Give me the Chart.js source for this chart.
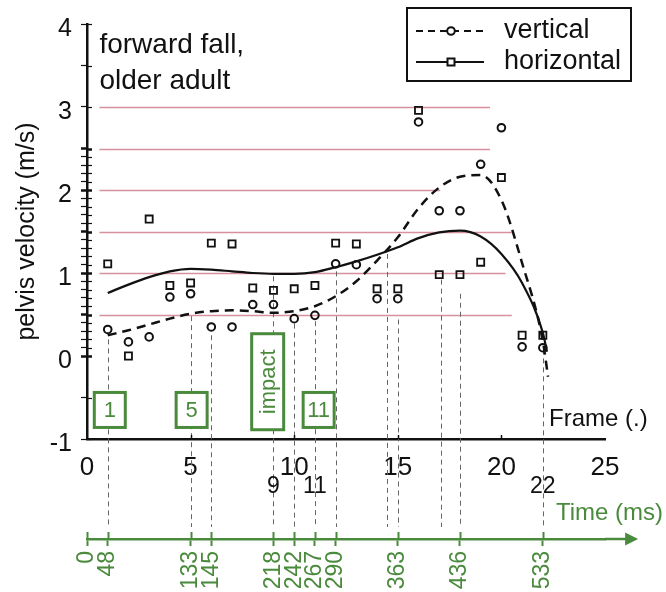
<!DOCTYPE html>
<html>
<head>
<meta charset="utf-8">
<script src="https://cdn.jsdelivr.net/npm/chart.js@4"></script>
<style>
  html, body { margin: 0; padding: 0; background: #fff; }
</style>
</head>
<body>
<canvas id="fall-chart" width="666" height="592"></canvas>
<script>
// measured samples, one per frame
const frames = [1, 2, 3, 4, 5, 6, 7, 8, 9, 10, 11, 12, 13, 14, 15, 16, 17, 18, 19, 20, 21, 22];
const verticalVel = [0.32, 0.17, 0.23, 0.71, 0.75, 0.35, 0.35, 0.62, 0.62, 0.45, 0.49, 1.11, 1.10, 0.69, 0.69, 2.82, 1.75, 1.75, 2.31, 2.75, 0.11, 0.10];
const horizontalVel = [1.11, 0.00, 1.65, 0.85, 0.88, 1.36, 1.35, 0.82, 0.79, 0.81, 0.85, 1.36, 1.35, 0.81, 0.81, 2.96, 0.98, 0.98, 1.13, 2.15, 0.25, 0.25];

// fitted curves
const verticalFitFrames = [1, 2, 3, 4, 5, 6, 7, 8, 9, 10, 11, 12, 13, 14, 15, 16, 17, 18, 19, 20, 21, 22, 22.25];
const verticalFit = [0.25, 0.31, 0.38, 0.45, 0.51, 0.54, 0.55, 0.54, 0.52, 0.54, 0.60, 0.72, 0.90, 1.15, 1.43, 1.78, 2.03, 2.16, 2.18, 1.88, 1.12, 0.18, -0.25];
const horizontalFitFrames = [1, 2, 3, 4, 5, 6, 7, 8, 9, 10, 11, 12, 13, 14, 15, 16, 17, 18, 19, 20, 21, 22, 22.2];
const horizontalFit = [0.76, 0.86, 0.95, 1.02, 1.05, 1.04, 1.02, 1.00, 0.99, 0.99, 1.01, 1.07, 1.14, 1.22, 1.31, 1.42, 1.49, 1.51, 1.44, 1.23, 0.88, 0.28, 0.05];

const seriesNames = ['vertical', 'horizontal'];

// pink reference levels
const refLevels = [3, 2.5, 2, 1.5, 1, 0.5];
const refStart = 0.6;
const refEnds = [19.45, 19.45, 17.05, 20.5, 20.2, 20.5];

// dashed guides from the curves down to the time axis
const guideFrames = [1, 5, 6, 9, 10, 11, 12, 14.5, 15, 17.1, 18, 22];
const guideTops = [0.2, 0.48, 0.25, 0.96, 0.39, 0.42, 1.02, 1.23, 0.44, 0.92, 0.75, 0.08];

// green frame markers
const boxFrames = [1.1, 5.05, 8.72, 11.18];
const boxLevels = [-0.65, -0.65, -0.31, -0.65];
const boxLabels = ['1', '5', 'impact', '11'];

// second row of frame numbers
const extraFrames = [9, 11, 22];

// time axis
const timeFrames = [0, 1, 5, 6, 9, 10, 11, 12, 15, 18, 22];
const timeLabels = ['0', '48', '133', '145', '218', '242', '267', '290', '363', '436', '533'];

const noteLines = ['forward fall,', 'older adult'];

const FONT = "'Liberation Sans', Arial, sans-serif";
const GREEN = '#4a8a3c';
const PINK = '#d6919f';

function pts(xs, ys) {
  return xs.map((v, i) => ({x: v, y: ys[i]}));
}

function yTickShown(v) {
  const onInt = Math.abs(v - Math.round(v)) < 1e-6;
  const onHalf = Math.abs(v * 2 - Math.round(v * 2)) < 1e-6;
  return onInt || (v >= -1e-6 && v <= 2.5 + 1e-6) || (onHalf && (v > 3 || v < 0));
}

function yTickWidth(v) {
  const onHalf = Math.abs(v * 2 - Math.round(v * 2)) < 1e-6;
  return onHalf && v >= 0 && v <= 2.5 ? 2.5 : 1.2;
}

const fallPlugin = {
  id: 'fallNotes',
  beforeDatasetsDraw(chart) {
    const {ctx} = chart;
    const {x, y, time} = chart.scales;
    ctx.save();
    ctx.strokeStyle = PINK;
    ctx.lineWidth = 1.3;
    refLevels.forEach((lv, i) => {
      const py = Math.round(y.getPixelForValue(lv)) + 0.5;
      ctx.beginPath();
      ctx.moveTo(x.getPixelForValue(refStart), py);
      ctx.lineTo(x.getPixelForValue(refEnds[i]), py);
      ctx.stroke();
    });
    ctx.strokeStyle = '#666';
    ctx.lineWidth = 1;
    ctx.setLineDash([5, 4]);
    guideFrames.forEach((f, i) => {
      const px = Math.round(x.getPixelForValue(f)) + 0.5;
      ctx.beginPath();
      ctx.moveTo(px, y.getPixelForValue(guideTops[i]));
      ctx.lineTo(px, time.top - 12);
      ctx.stroke();
    });
    ctx.setLineDash([]);

    // inner halves of the axis ticks
    ctx.strokeStyle = '#111';
    y.ticks.forEach(t => {
      if (!yTickShown(t.value)) return;
      const py = Math.round(y.getPixelForValue(t.value)) + 0.5;
      ctx.lineWidth = yTickWidth(t.value);
      ctx.beginPath();
      ctx.moveTo(y.right, py);
      ctx.lineTo(y.right + 5, py);
      ctx.stroke();
    });
    ctx.lineWidth = 1.5;
    x.ticks.forEach(t => {
      if (t.value === 0 || t.value === 25) return;
      const px = Math.round(x.getPixelForValue(t.value)) + 0.5;
      ctx.beginPath();
      ctx.moveTo(px, x.top);
      ctx.lineTo(px, x.top - 4);
      ctx.stroke();
    });
    ctx.restore();
  },
  afterDatasetsDraw(chart) {
    const {ctx} = chart;
    const {x, y} = chart.scales;
    ctx.save();
    ctx.lineWidth = 3;
    ctx.strokeStyle = GREEN;
    ctx.font = '22px ' + FONT;
    ctx.textAlign = 'center';
    ctx.textBaseline = 'middle';
    boxLabels.forEach((txt, i) => {
      const cx = x.getPixelForValue(boxFrames[i]);
      const cy = y.getPixelForValue(boxLevels[i]);
      const vertical = txt.length > 2;
      const w = vertical ? 32 : 31;
      const h = vertical ? 96 : 35;
      ctx.fillStyle = '#fff';
      ctx.fillRect(cx - w / 2, cy - h / 2, w, h);
      ctx.strokeRect(cx - w / 2, cy - h / 2, w, h);
      ctx.fillStyle = GREEN;
      if (vertical) {
        ctx.save();
        ctx.translate(cx, cy);
        ctx.rotate(-Math.PI / 2);
        ctx.fillText(txt, 0, 1);
        ctx.restore();
      } else {
        ctx.fillText(txt, cx, cy + 1);
      }
    });
    ctx.restore();
  },
  afterDraw(chart) {
    const {ctx} = chart;
    const {x, y, time} = chart.scales;
    ctx.save();

    // note in the top-left corner
    ctx.fillStyle = '#111';
    ctx.font = '28px ' + FONT;
    ctx.textAlign = 'left';
    ctx.textBaseline = 'middle';
    noteLines.forEach((t, i) => {
      ctx.fillText(t, x.getPixelForValue(0.6), 45 + i * 36);
    });

    // Frame (.) label
    ctx.font = '24px ' + FONT;
    ctx.fillText('Frame (.)', x.getPixelForValue(22.3), y.getPixelForValue(-0.76));

    // second row of frame numbers
    ctx.font = '23px ' + FONT;
    ctx.textAlign = 'center';
    extraFrames.forEach(f => {
      ctx.fillText(String(f), x.getPixelForValue(f), x.top + 48);
    });

    // time axis title, arrow and upper tick halves
    ctx.fillStyle = GREEN;
    ctx.strokeStyle = GREEN;
    ctx.font = '24px ' + FONT;
    ctx.textAlign = 'left';
    ctx.fillText('Time (ms)', x.getPixelForValue(22.63), x.top + 74);
    const ay = time.top;
    const tip = x.getPixelForValue(26.6);
    ctx.lineWidth = 2.5;
    ctx.beginPath();
    ctx.moveTo(time.right, ay);
    ctx.lineTo(tip - 6, ay);
    ctx.stroke();
    ctx.beginPath();
    ctx.moveTo(tip, ay);
    ctx.lineTo(tip - 13, ay - 6.5);
    ctx.lineTo(tip - 13, ay + 6.5);
    ctx.closePath();
    ctx.fill();
    ctx.lineWidth = 2;
    time.ticks.forEach(t => {
      const px = Math.round(time.getPixelForValue(t.value)) + 0.5;
      ctx.beginPath();
      ctx.moveTo(px, ay - 7);
      ctx.lineTo(px, ay);
      ctx.stroke();
    });

    // legend box
    const lx = 407, ly = 8, lw = 224, lh = 73;
    ctx.strokeStyle = '#111';
    ctx.lineWidth = 2;
    ctx.strokeRect(lx, ly, lw, lh);
    ctx.font = '27px ' + FONT;
    ctx.fillStyle = '#111';
    seriesNames.forEach((name, i) => {
      const ry = ly + 23 + i * 31;
      ctx.lineWidth = 2;
      ctx.setLineDash(i === 0 ? [7, 5] : []);
      ctx.beginPath();
      ctx.moveTo(lx + 9, ry);
      ctx.lineTo(lx + 77, ry);
      ctx.stroke();
      ctx.setLineDash([]);
      ctx.fillStyle = '#fff';
      ctx.beginPath();
      if (i === 0) {
        ctx.arc(lx + 44, ry, 3.8, 0, Math.PI * 2);
      } else {
        ctx.rect(lx + 40.5, ry - 3.5, 7, 7);
      }
      ctx.fill();
      ctx.stroke();
      ctx.fillStyle = '#111';
      ctx.fillText(name, lx + 97, ry);
    });
    ctx.restore();
  }
};

new Chart(document.getElementById('fall-chart'), {
  type: 'scatter',
  data: {
    datasets: [
      {
        type: 'line',
        label: seriesNames[0] + ' fit',
        data: pts(verticalFitFrames, verticalFit),
        borderColor: '#111',
        borderWidth: 2.5,
        borderDash: [9, 6],
        pointRadius: 0,
        cubicInterpolationMode: 'monotone',
        fill: false
      },
      {
        type: 'line',
        label: seriesNames[1] + ' fit',
        data: pts(horizontalFitFrames, horizontalFit),
        borderColor: '#111',
        borderWidth: 2.2,
        pointRadius: 0,
        cubicInterpolationMode: 'monotone',
        fill: false
      },
      {
        label: seriesNames[0],
        data: pts(frames, verticalVel),
        pointStyle: 'circle',
        pointRadius: 3.8,
        pointBorderWidth: 2,
        pointBorderColor: '#111',
        pointBackgroundColor: 'rgba(255,255,255,0)'
      },
      {
        label: seriesNames[1],
        data: pts(frames, horizontalVel),
        pointStyle: 'rect',
        pointRadius: 5,
        pointBorderWidth: 1.8,
        pointBorderColor: '#111',
        pointBackgroundColor: 'rgba(255,255,255,0)'
      }
    ]
  },
  options: {
    responsive: false,
    animation: false,
    devicePixelRatio: 1,
    layout: { padding: { left: 0, top: 20, right: 61, bottom: 0 } },
    plugins: {
      legend: { display: false },
      tooltip: { enabled: false }
    },
    scales: {
      x: {
        type: 'linear',
        position: 'bottom',
        min: 0,
        max: 25,
        afterFit(scale) { scale.height = 100; },
        border: { display: true, color: '#111', width: 2.5 },
        grid: { display: false },
        ticks: {
          stepSize: 5,
          padding: 5,
          color: '#111',
          maxRotation: 0,
          font: { family: FONT, size: 26 }
        }
      },
      time: {
        type: 'linear',
        position: 'bottom',
        weight: 1,
        min: 0,
        max: 25,
        afterFit(scale) { scale.height = 53; },
        afterBuildTicks(scale) {
          scale.ticks = timeFrames.map(v => ({value: v}));
        },
        border: { display: true, color: GREEN, width: 2.5 },
        grid: {
          display: true,
          drawOnChartArea: false,
          drawTicks: true,
          tickLength: 7,
          tickColor: GREEN,
          tickWidth: 2
        },
        ticks: {
          autoSkip: false,
          minRotation: 90,
          maxRotation: 90,
          padding: 5,
          color: GREEN,
          font: { family: FONT, size: 23 },
          callback(value) {
            const k = timeFrames.indexOf(value);
            return k >= 0 ? timeLabels[k] : '';
          }
        }
      },
      y: {
        type: 'linear',
        min: -1,
        max: 4,
        afterFit(scale) { scale.width = 87; },
        border: { display: true, color: '#111', width: 2.5 },
        grid: {
          display: true,
          drawOnChartArea: false,
          drawTicks: true,
          tickLength: 6,
          tickColor(c) {
            return yTickShown(c.tick.value) ? '#111' : 'rgba(0,0,0,0)';
          },
          tickWidth(c) {
            return yTickWidth(c.tick.value);
          }
        },
        title: {
          display: true,
          text: 'pelvis velocity (m/s)',
          color: '#111',
          font: { family: FONT, size: 25 },
          padding: { top: 12, bottom: 0 }
        },
        ticks: {
          stepSize: 0.1,
          autoSkip: false,
          padding: 9,
          labelOffset: 5,
          color: '#111',
          font: { family: FONT, size: 25 },
          callback(value) {
            return Math.abs(value - Math.round(value)) < 1e-6 ? String(Math.round(value)) : '';
          }
        }
      }
    }
  },
  plugins: [fallPlugin]
});
</script>
</body>
</html>
